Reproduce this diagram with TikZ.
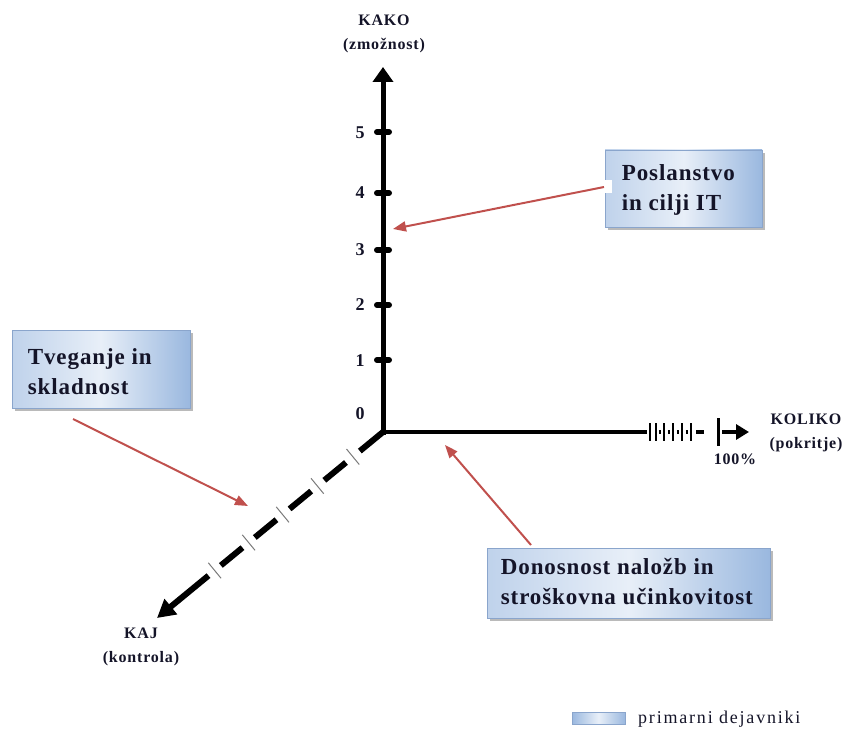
\documentclass[tikz,border=0pt]{standalone}
\usepackage{fontspec}
\setmainfont{Liberation Serif}
\newfontfamily\boxfont[LetterSpace=4]{Liberation Serif}
\newfontfamily\axfont[LetterSpace=5]{Liberation Serif}
\newfontfamily\legfont[LetterSpace=10]{Liberation Serif}
\usetikzlibrary{arrows.meta,calc,shadows}
\definecolor{ink}{HTML}{141428}
\definecolor{callred}{HTML}{C0504D}
\definecolor{boxedge}{HTML}{8AA5CC}
\definecolor{blueL}{HTML}{BFD2EB}
\definecolor{blueM}{HTML}{E8EFF8}
\definecolor{blueR}{HTML}{9AB8DF}
\definecolor{tickgrey}{HTML}{7A7A7A}
\begin{document}
\begin{tikzpicture}[x=1pt,y=-1pt,
  factorbox/.style={draw=boxedge, line width=0.8pt,
    left color=blueL, right color=blueR, middle color=blueM,
    drop shadow={shadow xshift=3pt, shadow yshift=-3pt, fill=black!45, opacity=.6},
    inner sep=0pt},
  boxtext/.style={anchor=west, align=left, inner sep=0pt, text=ink,
    font=\boxfont\bfseries\fontsize{23}{30}\selectfont},
  axislabel/.style={align=center, inner sep=0pt, text=ink,
    font=\axfont\bfseries\fontsize{16}{24}\selectfont},
  tickno/.style={inner sep=0pt, text=ink, font=\bfseries\fontsize{18}{20}\selectfont},
  axisline/.style={line width=#1, black},
  callout/.style={callred, line width=2pt, -{Triangle[length=13pt,width=10pt]}},
  ytick/.style={line width=6pt, line cap=round},
  xtick/.style={line width=1.4pt},
  dtick/.style={tickgrey, line width=1pt}
]
\useasboundingbox (0,0) rectangle (849,730);

% axis end points
\coordinate (O) at (383,432);
\coordinate (ytip) at (383,67);
\coordinate (xend) at (647,432);
\coordinate (dtip) at (157,618);

% vertical axis (KAKO) with its scale marks
\draw[axisline=5pt, -{Triangle[length=15pt,width=20pt]}] (383,434.5) -- (ytip);
\foreach \yy in {132,193,250,305,360}
  \draw[ytick] (377,\yy) -- (389,\yy);
\node[tickno] (n5) at (360,133) {5};
\node[tickno] (n4) at (360,193) {4};
\node[tickno] (n3) at (360,250) {3};
\node[tickno] (n2) at (360,305) {2};
\node[tickno] (n1) at (360,361) {1};
\node[tickno] (n0) at (360,414) {0};

% horizontal axis (KOLIKO) with the fine scale towards 100%
\draw[axisline=4pt] (O) -- (xend);
\foreach \xx in {650,656,664,673,682,691}
  \draw[xtick] (\xx,423) -- (\xx,441);
\foreach \xx in {660,669,678,687}
  \draw[axisline=4pt] (\xx-1.2,432) -- (\xx+1.2,432);
\draw[axisline=4pt] (696,432) -- (704,432);
\draw[line width=3pt] (718,418) -- (718,446);
\draw[axisline=4pt, -{Triangle[length=13pt,width=15pt]}] (722,432) -- (749,432);

% diagonal axis (KAJ): dashed with thin cross marks
\foreach \a/\b in {0/30,48/76,93/121,138/166,182/210}
  \draw[axisline=6pt] ($(O)!\a pt!(dtip)$) -- ($(O)!\b pt!(dtip)$);
\draw[axisline=6pt, -{Triangle[length=18pt,width=19pt]}] ($(O)!226pt!(dtip)$) -- (dtip);
\foreach \t in {39,85,130,174,218}{
  \coordinate (k) at ($(O)!\t pt!(dtip)$);
  \draw[dtick] ($(k)!10pt!90:(dtip)$) -- ($(k)!10pt!-90:(dtip)$);
}

% axis titles
\node[axislabel] (kako) at (384,34) {KAKO\\(zmožnost)};
\node[axislabel] (koliko) at (806,433) {KOLIKO\\(pokritje)};
\node[axislabel] (kaj) at (141,647) {KAJ\\(kontrola)};
\node[inner sep=0pt, text=ink, font=\axfont\bfseries\fontsize{16}{16}\selectfont] (pct) at (735,459) {100\%};

% factor boxes
\node[factorbox, minimum width=157pt, minimum height=77pt] (box1) at (683.5,188.5) {};
\node[boxtext] (box1text) at ($(box1.west)+(17,1)$) {Poslanstvo\\in cilji IT};

\node[factorbox, minimum width=178pt, minimum height=78pt] (box2) at (101,369) {};
\node[boxtext] (box2text) at ($(box2.west)+(16,3)$) {Tveganje in\\skladnost};

\node[factorbox, minimum width=283pt, minimum height=70pt] (box3) at (628.5,583) {};
\node[boxtext] (box3text) at ($(box3.west)+(14,-1)$) {Donosnost naložb in\\stroškovna učinkovitost};

% callout arrows
\fill[white] (601,180) rectangle (612,193);
\coordinate (a1tail) at (604,187);
\coordinate (a1tip) at (393,229);
\coordinate (a2tail) at (73,419);
\coordinate (a2tip) at (248,506);
\coordinate (a3tail) at (531,545);
\coordinate (a3tip) at (445,445);
\draw[callout] (a1tail) -- (a1tip);
\draw[callout] (a2tail) -- (a2tip);
\draw[callout] (a3tail) -- (a3tip);

% legend
\node[inner sep=0pt, minimum width=53pt, minimum height=12pt,
  left color=blueR, right color=blueR, middle color=blueM,
  draw=boxedge, line width=0.5pt] (legbox) at (598.5,718) {};
\node[anchor=base west, inner sep=0pt, text=ink,
  font=\legfont\fontsize{18}{20}\selectfont] (legtext) at (638,723) {primarni dejavniki};
\end{tikzpicture}
\end{document}
